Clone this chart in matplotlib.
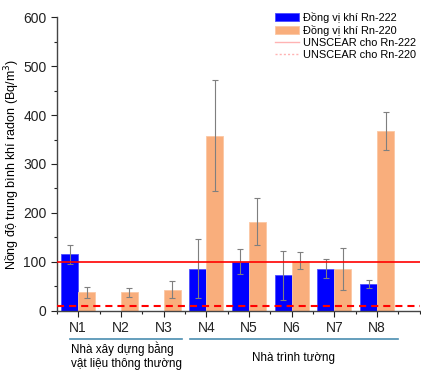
import matplotlib

matplotlib.use("Agg")
import matplotlib.pyplot as plt  # noqa: E402
import numpy as np  # noqa: E402
from matplotlib.lines import Line2D  # noqa: E402
from matplotlib.patches import Patch  # noqa: E402
from matplotlib.ticker import MultipleLocator  # noqa: E402

plt.rcParams["font.family"] = ["Liberation Sans", "DejaVu Sans"]

houses = ["N1", "N2", "N3", "N4", "N5", "N6", "N7", "N8"]
rn222 = [115, 0, 0, 86, 100, 72, 86, 54]
rn222_err = [20, 0, 0, 61, 25, 50, 20, 8]
rn220 = [37, 37, 43, 358, 182, 102, 86, 367]
rn220_err = [11, 9.5, 17, 113, 48, 17, 43, 39]
unscear_222 = 100
unscear_220 = 10

BLUE = "#0000FF"
ORANGE = "#F9AE7C"
RED = "#FF0000"
GREY = "#7f7f7f"
GROUP = "#4a8db0"

fig = plt.figure(figsize=(4.21, 3.71), dpi=100)
ax = fig.add_axes([0.135, 0.163, 0.862, 0.790])

x = np.arange(1, len(houses) + 1)
w = 0.4
err_kw = dict(ecolor=GREY, elinewidth=0.8, capsize=2.3, capthick=0.8)
for xi, v, e in zip(x, rn222, rn222_err):
    if v > 0:
        ax.bar(xi - w / 2, v, w, yerr=e, color=BLUE, edgecolor="#4d4dff",
               linewidth=0.6, error_kw=err_kw, zorder=2)
ax.bar(x + w / 2, rn220, w, yerr=rn220_err, color=ORANGE, edgecolor="#fbc7a3",
       linewidth=0.6, error_kw=err_kw, zorder=2)

ax.axhline(unscear_222, color=RED, lw=1.2, zorder=3)
ax.axhline(unscear_220, color=RED, lw=1.5, ls=(0, (3.4, 2.4)), zorder=3)

ax.set_xlim(0.5, 9.0)
ax.set_ylim(0, 600)
ax.set_xticks(x)
ax.set_xticklabels(houses, fontsize=10)
ax.xaxis.set_minor_locator(MultipleLocator(0.5))
ax.yaxis.set_major_locator(MultipleLocator(100))
ax.yaxis.set_minor_locator(MultipleLocator(50))
ax.tick_params(axis="both", which="major", direction="out", length=4,
               width=0.8, labelsize=10, colors="#222222")
ax.tick_params(axis="both", which="minor", direction="out", length=2.5,
               width=0.8, colors="#222222")
for side in ("top", "right"):
    ax.spines[side].set_visible(False)
for side in ("left", "bottom"):
    ax.spines[side].set_color("#444444")
    ax.spines[side].set_linewidth(1.0)

ax.set_ylabel("Nồng độ trung bình khí radon (Bq/m$^3$)", fontsize=9)
ax.yaxis.set_label_coords(-0.097, 0.497)

handles = [
    Patch(facecolor=BLUE, edgecolor="#4d4dff", linewidth=0.6),
    Patch(facecolor=ORANGE, edgecolor="#fbc7a3", linewidth=0.6),
    Line2D([], [], color="#ffb3b3", lw=1.0),
    Line2D([], [], color="#ffb3b3", lw=1.0, ls=(0, (1.5, 1.5))),
]
labels = ["Đồng vị khí Rn-222", "Đồng vị khí Rn-220",
          "UNSCEAR cho Rn-222", "UNSCEAR cho Rn-220"]
ax.legend(handles, labels, loc="upper left", bbox_to_anchor=(0.588, 1.035),
          frameon=False, fontsize=7.9, handlelength=2.2, handleheight=0.8,
          handletextpad=0.4, labelspacing=0.2, borderaxespad=0.0)

# group annotations below the axis
trans = ax.get_xaxis_transform()
ax.plot([0.80, 3.44], [-0.096, -0.096], color=GROUP, lw=1.2, transform=trans,
        clip_on=False)
ax.plot([3.61, 8.50], [-0.096, -0.096], color=GROUP, lw=1.2, transform=trans,
        clip_on=False)
ax.text(0.825, -0.131, "Nhà xây dựng bằng", fontsize=8.4,
        ha="left", va="center", transform=trans)
ax.text(0.825, -0.183, "vật liệu thông thường", fontsize=8.4,
        ha="left", va="center", transform=trans)
ax.text(6.05, -0.162, "Nhà trình tường", fontsize=8.4, ha="center",
        va="center", transform=trans)

fig.savefig("out.png", dpi=100)
